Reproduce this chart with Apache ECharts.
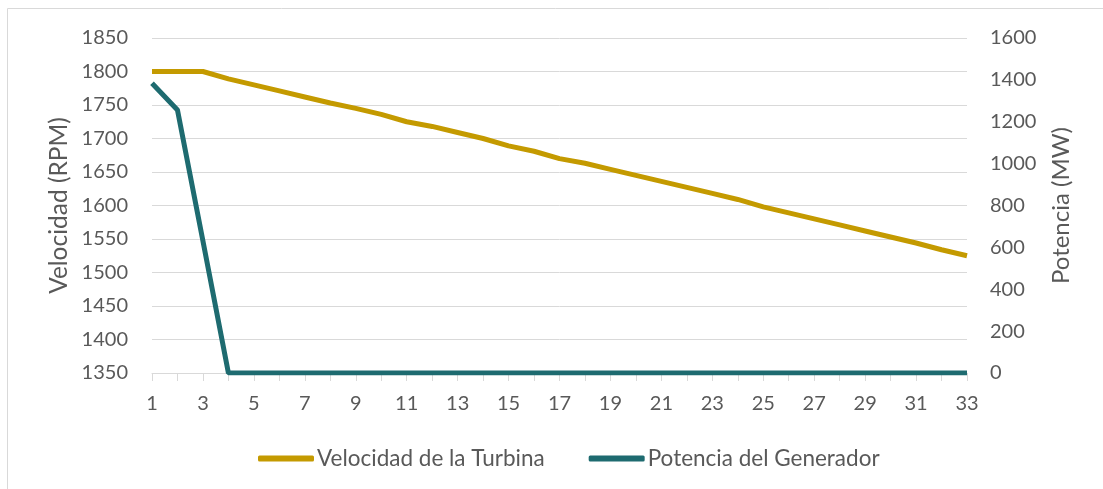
<!DOCTYPE html>
<html>
<head>
<meta charset="utf-8">
<script src="https://cdn.jsdelivr.net/npm/echarts@6/dist/echarts.min.js"></script>
<style>
  html, body { margin: 0; padding: 0; background: #fff; }
  #main { width: 1103px; height: 489px; }
</style>
</head>
<body>
<div id="main"></div>
<script>
// datos
var categorias = [];
for (var i = 1; i <= 33; i++) categorias.push(String(i));

var velocidad = [1800, 1800, 1800, 1789, 1780, 1771, 1762, 1753, 1745, 1736, 1725,
  1718, 1709, 1700, 1689, 1681, 1670, 1663, 1654, 1645, 1636, 1627, 1618,
  1609, 1598, 1589, 1580, 1571, 1562, 1553, 1544, 1534, 1525];

var potencia = [1384, 1256, 630, 0, 0, 0, 0, 0, 0, 0, 0, 0, 0, 0, 0, 0, 0,
  0, 0, 0, 0, 0, 0, 0, 0, 0, 0, 0, 0, 0, 0, 0, 0];

var nombres = ['Velocidad de la Turbina', 'Potencia del Generador'];

var chart = echarts.init(document.getElementById('main'));
var txt = '#595959';
var fuente = 'Lato';

var option = {
  animation: false,
  textStyle: { fontFamily: fuente },
  graphic: [{
    type: 'rect',
    shape: { x: 7.5, y: 8.5, width: 1120, height: 520 },
    style: { fill: 'none', stroke: '#d9d9d9', lineWidth: 1 },
    silent: true
  }],
  grid: {
    left: 152,
    right: 136,
    top: 38,
    bottom: 116
  },
  legend: {
    data: nombres,
    bottom: 14,
    left: 253,
    icon: 'roundRect',
    itemWidth: 56,
    itemHeight: 6,
    itemGap: 44,
    textStyle: { color: txt, fontSize: 22.5, fontFamily: fuente, padding: [0, 0, 0, -2] }
  },
  xAxis: {
    type: 'category',
    boundaryGap: false,
    data: categorias,
    axisLine: { lineStyle: { color: '#d9d9d9', width: 1 } },
    axisTick: { show: true, interval: 0, length: 8, lineStyle: { color: '#d9d9d9' } },
    axisLabel: { interval: 1, color: txt, fontSize: 20, margin: 21 },
    splitLine: { show: false }
  },
  yAxis: [{
    type: 'value',
    min: 1350,
    max: 1850,
    interval: 50,
    name: 'Velocidad (RPM)',
    nameLocation: 'middle',
    nameRotate: 90,
    nameGap: 80,
    nameMoveOverlap: false,
    nameTextStyle: { color: txt, fontSize: 24.5 },
    axisLine: { show: false },
    axisTick: { show: false },
    axisLabel: { color: txt, fontSize: 20, margin: 24, formatter: function (v) { return String(v); } },
    splitLine: { lineStyle: { color: '#d9d9d9', width: 1 } }
  }, {
    type: 'value',
    min: 0,
    max: 1600,
    interval: 200,
    name: 'Potencia (MW)',
    nameLocation: 'middle',
    nameRotate: 90,
    nameGap: 82,
    nameTextStyle: { color: txt, fontSize: 24 },
    axisLine: { show: false },
    axisTick: { show: false },
    axisLabel: { color: txt, fontSize: 20, margin: 23, formatter: function (v) { return String(v); } },
    splitLine: { show: false }
  }],
  series: [{
    name: nombres[0],
    type: 'line',
    yAxisIndex: 0,
    data: velocidad,
    symbol: 'none',
    color: '#C49A00',
    lineStyle: { color: '#C49A00', width: 5 }
  }, {
    name: nombres[1],
    type: 'line',
    yAxisIndex: 1,
    data: potencia,
    symbol: 'none',
    color: '#1E6B70',
    lineStyle: { color: '#1E6B70', width: 5 }
  }]
};

chart.setOption(option);
</script>
</body>
</html>
